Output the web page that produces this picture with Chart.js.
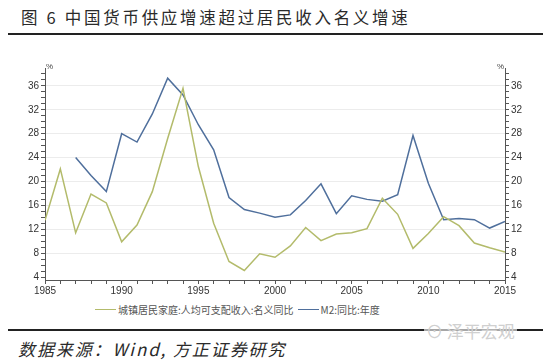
<!DOCTYPE html>
<html>
<head>
<meta charset="utf-8">
<script src="https://cdn.jsdelivr.net/npm/chart.js@4.4.0/dist/chart.umd.min.js"></script>
<style>
  html, body { margin:0; padding:0; background:#fff; }
  body { width:550px; height:360px; position:relative; overflow:hidden; font-family:"Noto Sans CJK SC", sans-serif; }
  #c { position:absolute; left:0; top:0; }
  .title { position:absolute; left:21px; top:5px; font-size:16.5px; letter-spacing:2.7px; color:#2a2a2a; white-space:nowrap; }
  .hr { position:absolute; left:8px; width:535px; height:2px; background:#222; }
  .pct { position:absolute; top:62px; font-size:8px; color:#444; font-family:"Liberation Sans", sans-serif; }
  .legend { position:absolute; top:302px; left:95px; font-size:10px; color:#555; white-space:nowrap; display:flex; align-items:center; }
  .legend .sw { display:inline-block; width:21px; height:1.5px; margin-right:2px; }
  .source { position:absolute; left:18px; top:336px; font-size:17px; font-style:italic; color:#2a2a2a; letter-spacing:1.9px; white-space:nowrap; }
  .wm { position:absolute; left:424px; top:318px; font-size:17px; color:#d0d0d0; white-space:nowrap; background:rgba(255,255,255,0.6); padding:0 2px; }
</style>
</head>
<body>
<div class="title">图 6 中国货币供应增速超过居民收入名义增速</div>
<div class="hr" style="top:33px"></div>
<canvas id="c" width="550" height="300"></canvas>
<div class="pct" style="left:46px">%</div>
<div class="pct" style="left:497px">%</div>
<div class="legend">
  <span class="sw" style="background:#b3bb6b"></span><span>城镇居民家庭:人均可支配收入:名义同比</span>
  <span class="sw" style="background:#4f6f9c;margin-left:4px"></span><span>M2:同比:年度</span>
</div>
<div class="hr" style="top:329px"></div>
<div class="wm">⊙ 泽平宏观</div>
<div class="source">数据来源：Wind, 方正证券研究</div>
<script>
const years = [1985,1986,1987,1988,1989,1990,1991,1992,1993,1994,1995,1996,1997,1998,1999,2000,2001,2002,2003,2004,2005,2006,2007,2008,2009,2010,2011,2012,2013,2014,2015];
const incomeGrowth = [13.5,22.1,11.4,17.9,16.4,9.9,12.7,18.3,27.2,35.6,22.5,13.0,6.6,5.1,7.9,7.3,9.2,12.3,10.1,11.2,11.4,12.1,17.2,14.5,8.8,11.3,14.1,12.6,9.7,8.9,8.2];
const m2Growth = [null,null,24.0,21.0,18.3,28.0,26.6,31.3,37.3,34.5,29.5,25.3,17.3,15.3,14.7,14.0,14.4,16.8,19.6,14.6,17.6,17.0,16.7,17.8,27.7,19.7,13.6,13.8,13.6,12.2,13.3];
const seriesNames = ["城镇居民家庭:人均可支配收入:名义同比","M2:同比:年度"];
const yTickValues = [4,8,12,16,20,24,28,32,36];
const xTickValues = [1985,1990,1995,2000,2005,2010,2015];

const toXY = arr => years.map((y,i)=>({x:y, y:arr[i]}));
const tickFont = {family:"Liberation Sans", size:10};
function yTicks(scale){ const t=[]; for(let v=4; v<=38; v++) t.push({value:v}); scale.ticks=t; }
const yLabel = v => yTickValues.includes(v) ? String(v) : '';

new Chart(document.getElementById('c'), {
  type:'line',
  data:{ datasets:[
    {label:seriesNames[0], data:toXY(incomeGrowth), borderColor:'#b3bb6b', borderWidth:1.5, pointRadius:0, tension:0, yAxisID:'y'},
    {label:seriesNames[1], data:toXY(m2Growth), borderColor:'#4f6f9c', borderWidth:1.5, pointRadius:0, tension:0, yAxisID:'y2', spanGaps:false}
  ]},
  options:{
    responsive:false, animation:false, events:[],
    layout:{padding:{top:68,left:0,right:0,bottom:0}},
    plugins:{legend:{display:false}, tooltip:{enabled:false}},
    scales:{
      x:{type:'linear', min:1985, max:2015,
        afterBuildTicks:s=>{ const t=[]; for(let v=1985; v<=2015; v++) t.push({value:v}); s.ticks=t; },
        afterFit:s=>{ s.height=20; },
        ticks:{autoSkip:false, maxRotation:0, font:tickFont, color:'#333', padding:1, callback:v=> xTickValues.includes(v)?String(v):''},
        grid:{drawOnChartArea:false, tickLength:4, tickColor:'#555'},
        border:{color:'#555', width:1}
      },
      y:{type:'linear', position:'left', min:3.5, max:39,
        afterBuildTicks:yTicks, afterFit:s=>{ s.width=45; },
        ticks:{autoSkip:false, font:tickFont, color:'#333', padding:2, callback:yLabel},
        grid:{drawOnChartArea:true, tickLength:4, tickColor:'#555', color:c=> (c.tick && yTickValues.includes(c.tick.value) && c.tick.value!==4) ? '#ececec' : 'rgba(0,0,0,0)'},
        border:{color:'#555', width:1}
      },
      y2:{type:'linear', position:'right', min:3.5, max:39,
        afterBuildTicks:yTicks, afterFit:s=>{ s.width=45; },
        ticks:{autoSkip:false, font:tickFont, color:'#333', padding:2, callback:yLabel},
        grid:{drawOnChartArea:false, tickLength:4, tickColor:'#555'},
        border:{color:'#555', width:1}
      }
    }
  }
});
</script>
</body>
</html>
